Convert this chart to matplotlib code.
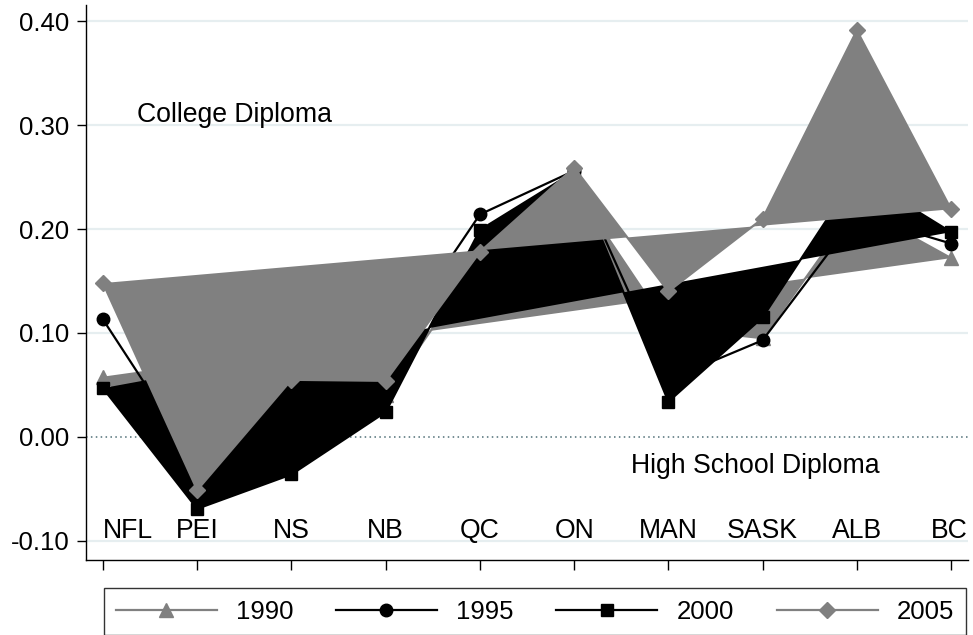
import matplotlib
matplotlib.use('Agg')
import matplotlib.pyplot as plt

plt.rcParams['font.family'] = ['Liberation Sans', 'DejaVu Sans']

provinces = ['NFL', 'PEI', 'NS', 'NB', 'QC', 'ON', 'MAN', 'SASK', 'ALB', 'BC']
years = ['1990', '1995', '2000', '2005']
y1990 = [0.058, -0.040, 0.010, 0.040, 0.170, 0.240, 0.105, 0.095, 0.222, 0.172]
y1995 = [0.113, -0.026, 0.030, 0.080, 0.214, 0.256, 0.055, 0.093, 0.213, 0.186]
y2000 = [0.047, -0.069, -0.036, 0.024, 0.199, 0.255, 0.034, 0.115, 0.253, 0.197]
y2005 = [0.148, -0.051, 0.055, 0.054, 0.178, 0.259, 0.140, 0.210, 0.391, 0.219]
yticks = [-0.10, 0.00, 0.10, 0.20, 0.30, 0.40]

GRAY = '#808080'
FS = 18.5
FS_TXT = 19.2

fig = plt.figure(figsize=(9.73, 6.35), dpi=100)
ax = fig.add_axes([0.0884, 0.1181, 0.9065, 0.8740])
x = list(range(len(provinces)))

# grid
for v in yticks:
    if v == 0:
        ax.axhline(v, color='#4f6f76', lw=1.1, ls=(0, (1, 2.2)), zorder=0)
    else:
        ax.axhline(v, color='#e6eef0', lw=1.6, zorder=0)

# series: (values, colour, marker, size, filled?)
series = [
    (y1990, GRAY, '^', 10, True),
    (y1995, 'black', 'o', 9, False),
    (y2000, 'black', 's', 9, True),
    (y2005, GRAY, 'D', 8.5, True),
]
handles = []
for i, (vals, col, mk, ms, filled) in enumerate(series):
    z = 2 + i * 2
    if filled:
        ax.fill(x, vals, color=col, lw=0, zorder=z)
    h, = ax.plot(x, vals, color=col, lw=1.6, marker=mk, ms=ms,
                 mec=col, mfc=col, zorder=z + 1, label=years[i])
    handles.append(h)

# province labels inside the plot
for i, p in enumerate(provinces):
    if i == 0:
        ax.text(0, -0.097, p, ha='left', va='baseline', fontsize=FS_TXT, zorder=20)
    elif i == len(provinces) - 1:
        ax.text(9.18, -0.097, p, ha='right', va='baseline', fontsize=FS_TXT, zorder=20)
    else:
        ax.text(i, -0.097, p, ha='center', va='baseline', fontsize=FS_TXT, zorder=20)

ax.text(0.36, 0.303, 'College Diploma', ha='left', va='baseline', fontsize=FS_TXT, zorder=20)
ax.text(5.6, -0.035, 'High School Diploma', ha='left', va='baseline', fontsize=FS_TXT, zorder=20)

ax.set_xlim(-0.18, 9.18)
ax.set_ylim(-0.1183, 0.4154)
ax.set_yticks(yticks)
ax.set_yticklabels([f'{v:.2f}' for v in yticks])
ax.set_xticks(x)
ax.set_xticklabels([])
ax.tick_params(axis='y', length=6.5, width=1, pad=5.5, labelsize=FS)
ax.tick_params(axis='x', length=7, width=1)
for s in ['top', 'right']:
    ax.spines[s].set_visible(False)
for s in ['left', 'bottom']:
    ax.spines[s].set_linewidth(1.0)

leg = fig.legend(handles=handles, loc='upper left',
                 bbox_to_anchor=(104 / 973, 1 - 588 / 635), ncol=4,
                 fontsize=FS, handlelength=3.93, handletextpad=0.74,
                 columnspacing=1.67, borderpad=0.45, borderaxespad=0,
                 fancybox=False, frameon=True)
leg.get_frame().set_edgecolor('black')
leg.get_frame().set_linewidth(1.0)

fig.savefig('out.png', dpi=100)
